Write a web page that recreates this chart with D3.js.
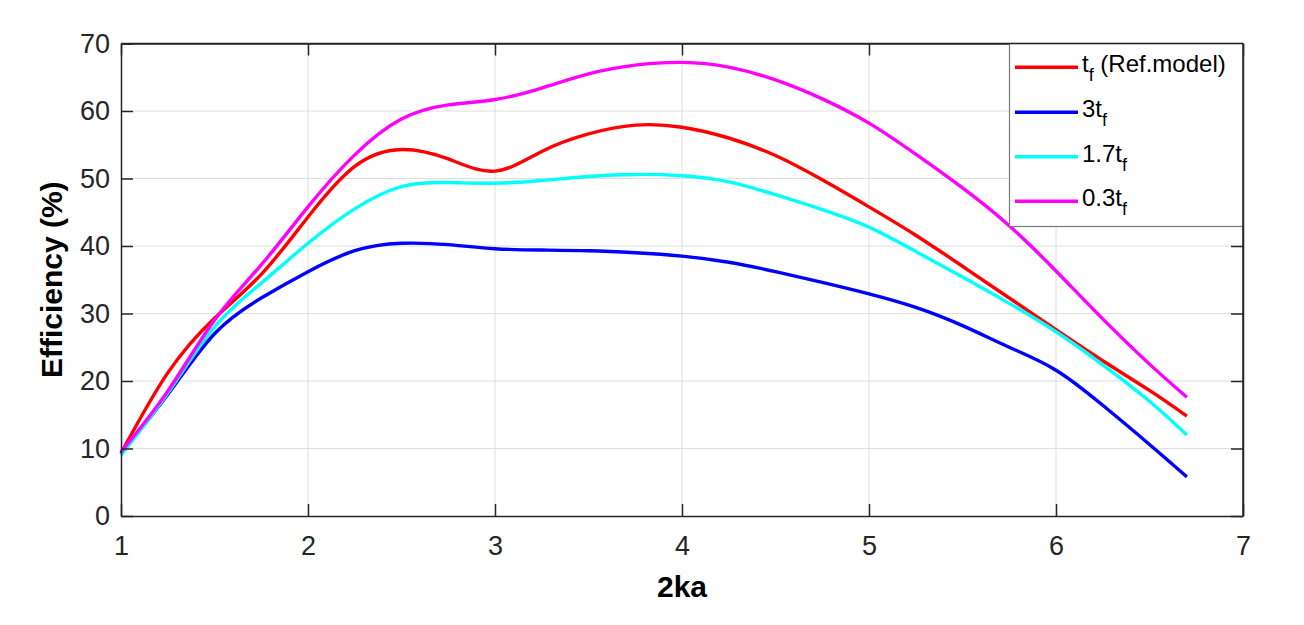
<!DOCTYPE html>
<html>
<head>
<meta charset="utf-8">
<script src="https://cdn.jsdelivr.net/npm/d3@7"></script>
<style>
body { margin: 0; background: #fff; }
svg { display: block; font-family: "Liberation Sans", Arial, Helvetica, sans-serif; }
</style>
</head>
<body>
<svg id="chart" width="1304" height="625"></svg>
<script>
const xValues = [1, 1.25, 1.5, 1.75, 2, 2.25, 2.5, 2.75, 3, 3.25, 3.5, 3.75, 4, 4.25, 4.5, 4.75, 5, 5.25, 5.5, 5.75, 6, 6.25, 6.5, 6.7];
const tfRef  = [9.3, 21.2, 29.3, 35.8, 44.3, 51.8, 54.3, 52.9, 51.1, 54, 56.6, 57.9, 57.6, 56, 53.4, 49.8, 45.8, 41.6, 37, 32.3, 27.6, 23, 18.6, 14.8];
const tf3    = [9.3, 18, 27, 32.3, 36.2, 39.3, 40.4, 40.2, 39.6, 39.4, 39.3, 39, 38.5, 37.6, 36.2, 34.6, 32.9, 30.9, 28.2, 25.0, 21.6, 16.4, 10.6, 5.8];
const tf17   = [9, 18.2, 28, 34.5, 40.4, 45.5, 48.8, 49.4, 49.3, 49.7, 50.3, 50.6, 50.4, 49.5, 47.6, 45.4, 42.8, 39.2, 35.4, 31.5, 27.3, 22.4, 17, 12];
const tf03   = [9.5, 18.5, 29, 37.2, 45.8, 53.5, 58.8, 60.9, 61.7, 63.4, 65.5, 66.8, 67.2, 66.5, 64.6, 61.8, 58.2, 53.6, 48.6, 43.0, 36.3, 29.2, 22.5, 17.6];
const seriesNames = ["tf (Ref.model)", "3tf", "1.7tf", "0.3tf"];
const seriesColors = ["#ff0000", "#0000ff", "#00ffff", "#ff00ff"];
const legendMain = ["t", "3t", "1.7t", "0.3t"];
const legendSuffix = [" (Ref.model)", "", "", ""];
const xTicks = [1, 2, 3, 4, 5, 6, 7];
const yTicks = [0, 10, 20, 30, 40, 50, 60, 70];

const series = [tfRef, tf3, tf17, tf03];

const svg = d3.select("#chart");
const L = 121, R = 1243, T = 43.5, B = 516;
const x = d3.scaleLinear().domain([1, 7]).range([L, R]);
const y = d3.scaleLinear().domain([0, 70]).range([B, T]);
const axisColor = "#262626";

// grid
const g = svg.append("g");
g.selectAll(".vg").data(xTicks.slice(1, -1)).join("line")
  .attr("x1", d => x(d)).attr("x2", d => x(d)).attr("y1", T).attr("y2", B)
  .attr("stroke", "#dedede").attr("stroke-width", 1);
g.selectAll(".hg").data(yTicks.slice(1, -1)).join("line")
  .attr("x1", L).attr("x2", R).attr("y1", d => y(d)).attr("y2", d => y(d))
  .attr("stroke", "#dedede").attr("stroke-width", 1);

// axes
const tickLen = 12;
const fmt = d3.format("d");
const xAxisB = d3.axisBottom(x).tickValues(xTicks).tickSizeInner(-tickLen).tickSizeOuter(0).tickPadding(20).tickFormat(fmt);
const xAxisT = d3.axisTop(x).tickValues(xTicks).tickSizeInner(-tickLen).tickSizeOuter(0).tickFormat("");
const yAxisL = d3.axisLeft(y).tickValues(yTicks).tickSizeInner(-tickLen).tickSizeOuter(0).tickPadding(11).tickFormat(fmt);
const yAxisR = d3.axisRight(y).tickValues(yTicks).tickSizeInner(-tickLen).tickSizeOuter(0).tickFormat("");

function styleAxis(sel) {
  sel.attr("font-size", 27).attr("font-family", "'Liberation Sans', Arial, sans-serif");
  sel.selectAll("path").attr("stroke", axisColor).attr("stroke-width", 1.5);
  sel.selectAll("line").attr("stroke", axisColor).attr("stroke-width", 1.5);
  sel.selectAll("text").attr("fill", axisColor);
}

// lines
const line = d3.line().x((d, i) => x(xValues[i])).y(d => y(d)).curve(d3.curveNatural);
svg.append("g").selectAll("path").data(series).join("path")
  .attr("d", d => line(d))
  .attr("fill", "none")
  .attr("stroke", (d, i) => seriesColors[i])
  .attr("stroke-width", 3.4)
  .attr("stroke-linejoin", "round");

svg.append("g").attr("transform", `translate(0,${B})`).call(xAxisB).call(styleAxis);
svg.append("g").attr("transform", `translate(0,${T})`).call(xAxisT).call(styleAxis);
svg.append("g").attr("transform", `translate(${L},0)`).call(yAxisL).call(styleAxis);
svg.append("g").attr("transform", `translate(${R},0)`).call(yAxisR).call(styleAxis);

// axis labels
svg.append("text").attr("x", 682).attr("y", 597).attr("text-anchor", "middle")
  .attr("font-size", 30).attr("font-weight", "bold").attr("fill", "#000").text("2ka");
svg.append("text").attr("transform", `translate(62,${(T + B) / 2}) rotate(-90)`).attr("text-anchor", "middle")
  .attr("font-size", 30).attr("font-weight", "bold").attr("fill", "#000").text("Efficiency (%)");

// legend
const lg = svg.append("g");
lg.append("rect").attr("x", 1009.5).attr("y", T).attr("width", R - 1009.5).attr("height", 183)
  .attr("fill", "#fff").attr("stroke", "#7a7a7a").attr("stroke-width", 1.2);
const rowY = [67.3, 112.3, 156.8, 201.3];
seriesNames.forEach((name, i) => {
  lg.append("line").attr("x1", 1015).attr("x2", 1078).attr("y1", rowY[i]).attr("y2", rowY[i])
    .attr("stroke", seriesColors[i]).attr("stroke-width", 3.4);
  const t = lg.append("text").attr("x", 1082).attr("y", rowY[i] + 5).attr("font-size", 24).attr("fill", "#000");
  t.append("tspan").text(legendMain[i]);
  t.append("tspan").attr("font-size", 18).attr("dy", 9).text("f");
  if (legendSuffix[i]) t.append("tspan").attr("dy", -9).text(legendSuffix[i]);
});
// redraw borders over legend
svg.append("line").attr("x1", R).attr("x2", R).attr("y1", T).attr("y2", B).attr("stroke", axisColor).attr("stroke-width", 1.5);
svg.append("line").attr("x1", L).attr("x2", R).attr("y1", T).attr("y2", T).attr("stroke", axisColor).attr("stroke-width", 1.5);
</script>
</body>
</html>
